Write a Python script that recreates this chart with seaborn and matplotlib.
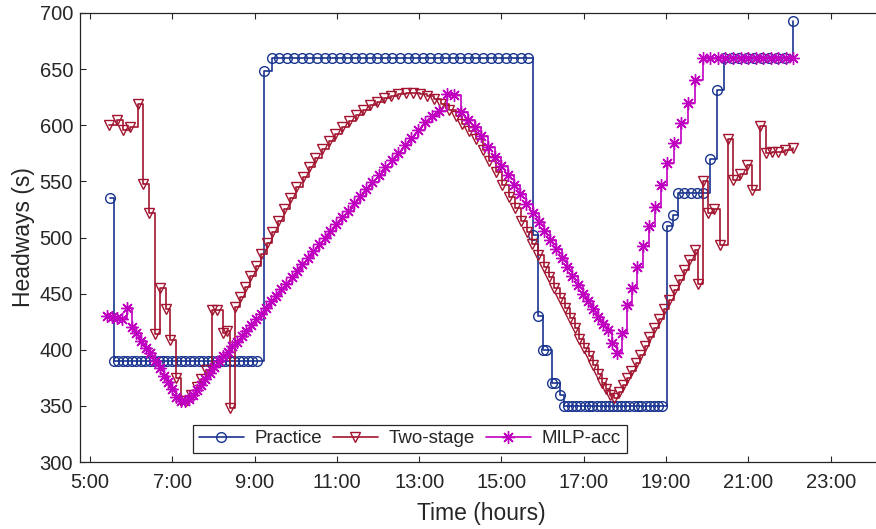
import matplotlib
matplotlib.use("Agg")
import matplotlib.pyplot as plt
import pandas as pd
import seaborn as sns

# ---------------- data ----------------
series_names = ["Practice", "Two-stage", "MILP-acc"]

practice_time = [
    5.486,
    5.583, 5.691, 5.800, 5.908, 6.016, 6.125, 6.233, 6.341, 6.450, 6.558, 6.666,
    6.775, 6.883, 6.991, 7.100, 7.208, 7.316, 7.425, 7.533, 7.641, 7.750, 7.858,
    7.966, 8.075, 8.183, 8.291, 8.400, 8.508, 8.616, 8.725, 8.833, 8.941, 9.050,
    9.236,
    9.416, 9.599, 9.783, 9.966, 10.149, 10.333, 10.516, 10.699, 10.883, 11.066,
    11.249, 11.433, 11.616, 11.799, 11.983, 12.166, 12.349, 12.533, 12.716, 12.899,
    13.083, 13.266, 13.449, 13.633, 13.816, 13.999, 14.183, 14.366, 14.549, 14.733,
    14.916, 15.099, 15.283, 15.466, 15.649,
    15.773, 15.894, 16.016, 16.081, 16.220, 16.300, 16.421,
    16.52, 16.62, 16.72, 16.82, 16.92, 17.02, 17.12, 17.21, 17.31, 17.41, 17.51,
    17.61, 17.71, 17.81, 17.91, 18.01, 18.11, 18.21, 18.31, 18.40, 18.50, 18.60,
    18.70, 18.80, 18.90,
    19.014, 19.160, 19.296, 19.447, 19.597, 19.750, 19.900, 20.067, 20.229,
    20.414, 20.597, 20.781, 20.964, 21.148, 21.330, 21.512, 21.695, 21.880,
    22.091,
]
practice_headway = [
    535,
    390, 390, 390, 390, 390, 390, 390, 390, 390, 390, 390,
    390, 390, 390, 390, 390, 390, 390, 390, 390, 390, 390,
    390, 390, 390, 390, 390, 390, 390, 390, 390, 390, 390,
    648,
    660, 660, 660, 660, 660, 660, 660, 660, 660, 660,
    660, 660, 660, 660, 660, 660, 660, 660, 660, 660,
    660, 660, 660, 660, 660, 660, 660, 660, 660, 660,
    660, 660, 660, 660, 660,
    502, 430, 400, 400, 370, 370, 360,
    350, 350, 350, 350, 350, 350, 350, 350, 350, 350, 350,
    350, 350, 350, 350, 350, 350, 350, 350, 350, 350, 350,
    350, 350, 350,
    510, 520, 540, 540, 540, 540, 540, 570, 631,
    660, 660, 660, 660, 660, 660, 660, 660, 660,
    693,
]

twostage_time = [
    5.469, 5.663, 5.809, 5.972, 6.174, 6.281, 6.441, 6.580, 6.701, 6.840,
    6.944, 7.090, 7.211, 7.333, 7.454, 7.593, 7.697, 7.812, 7.957, 8.079,
    8.239, 8.322, 8.402, 8.524, 8.648, 8.774, 8.900, 9.029, 9.160, 9.296,
    9.435, 9.576, 9.719, 9.865, 10.016, 10.166, 10.322, 10.478, 10.636, 10.798,
    10.961, 11.126, 11.294, 11.462, 11.632, 11.802, 11.974, 12.147, 12.320, 12.495,
    12.670, 12.844, 13.019, 13.194, 13.369, 13.542, 13.714, 13.885, 14.052, 14.220,
    14.385, 14.548, 14.708, 14.866, 15.022, 15.175, 15.323, 15.469, 15.612, 15.753,
    15.889, 16.025, 16.157, 16.285, 16.412, 16.536, 16.657, 16.776, 16.893, 17.007,
    17.117, 17.228, 17.335, 17.440, 17.542, 17.644, 17.743, 17.846, 17.948, 18.052,
    18.157, 18.264, 18.373, 18.482, 18.594, 18.708, 18.823, 18.944, 19.066, 19.187,
    19.311, 19.438, 19.564, 19.693, 19.775, 19.904, 20.026, 20.176, 20.298, 20.512,
    20.633, 20.796, 20.959, 21.088, 21.282, 21.421, 21.566, 21.727, 21.890, 22.091,
]
twostage_headway = [
    600, 605, 596, 598, 619, 548, 522, 414, 455, 436,
    409, 375, 354, 354, 360, 367, 374, 382, 435, 435,
    415, 417, 348, 438, 447, 456, 466, 475, 485, 495,
    505, 515, 525, 535, 545, 554, 563, 571, 579, 586,
    592, 598, 604, 609, 614, 618, 621, 624, 626, 628,
    629, 629, 628, 626, 623, 619, 614, 608, 601, 595,
    588, 578, 568, 558, 547, 536, 526, 515, 505, 494,
    484, 474, 465, 455, 446, 437, 428, 419, 410, 402,
    394, 386, 378, 370, 365, 360, 357, 362, 369, 375,
    381, 388, 395, 403, 411, 419, 427, 436, 444, 453,
    462, 471, 480, 489, 459, 550, 522, 525, 493, 588,
    551, 557, 565, 542, 599, 575, 576, 576, 578, 580,
]

milp_time = [
    5.420, 5.539, 5.659, 5.778, 5.899, 6.016, 6.130, 6.244, 6.358, 6.470,
    6.580, 6.689, 6.796, 6.900, 7.002, 7.102, 7.202, 7.299, 7.399, 7.498,
    7.598, 7.700, 7.804, 7.909, 8.016, 8.123, 8.232, 8.344, 8.456, 8.570,
    8.684, 8.801, 8.917, 9.034, 9.153, 9.275, 9.398, 9.522, 9.649, 9.775,
    9.904, 10.033, 10.164, 10.298, 10.431, 10.567, 10.706, 10.844, 10.985, 11.129,
    11.272, 11.418, 11.566, 11.714, 11.865, 12.018, 12.174, 12.329, 12.487, 12.648,
    12.810, 12.976, 13.141, 13.309, 13.479, 13.668, 13.843, 14.013, 14.181, 14.349,
    14.514, 14.677, 14.837, 14.995, 15.151, 15.306, 15.457, 15.607, 15.756, 15.901,
    16.045, 16.186, 16.324, 16.460, 16.594, 16.725, 16.854, 16.980, 17.104, 17.228,
    17.350, 17.466, 17.583, 17.695, 17.804, 17.918, 18.040, 18.166, 18.298, 18.434,
    18.575, 18.720, 18.873, 19.031, 19.194, 19.362, 19.535, 19.712, 19.894, 20.076,
    20.259, 20.443, 20.625, 20.810, 20.992, 21.174, 21.359, 21.541, 21.726, 21.908,
    22.091,
]
milp_headway = [
    430, 429, 428, 427, 437, 420, 415, 408, 402, 397,
    390, 384, 377, 371, 365, 358, 354, 354, 356, 360,
    364, 369, 374, 379, 385, 390, 394, 398, 403, 407,
    412, 417, 422, 427, 432, 437, 443, 448, 454, 459,
    465, 470, 476, 482, 488, 494, 500, 506, 512, 518,
    524, 531, 537, 543, 549, 556, 563, 569, 575, 582,
    589, 596, 603, 608, 613, 628, 627, 612, 605, 598,
    590, 581, 572, 564, 556, 547, 539, 530, 522, 514,
    506, 498, 490, 482, 474, 466, 458, 450, 443, 436,
    429, 423, 418, 406, 397, 415, 440, 455, 474, 492,
    510, 527, 547, 566, 584, 602, 620, 640, 660, 660,
    660, 660, 660, 660, 660, 660, 660, 660, 660, 660,
    660,
]

x_ticks = [5, 7, 9, 11, 13, 15, 17, 19, 21, 23]
x_tick_labels = ["5:00", "7:00", "9:00", "11:00", "13:00", "15:00",
                 "17:00", "19:00", "21:00", "23:00"]
y_ticks = [300, 350, 400, 450, 500, 550, 600, 650, 700]

# ---------------- style ----------------
sns.set_style("white")
plt.rcParams["font.family"] = ["Liberation Sans", "DejaVu Sans"]

W, H = 876, 529
fig = plt.figure(figsize=(W / 100, H / 100), dpi=100)
ax = fig.add_axes([80 / W, (H - 462) / H, 802 / W, 449 / H])

colors = ["#1A3590", "#A2142F", "#C000C0"]
markers = ["o", "v", (8, 2, 0)]
msizes = [7, 7.5, 9]

all_series = [
    (practice_time, practice_headway),
    (twostage_time, twostage_headway),
    (milp_time, milp_headway),
]

for (t, h), name, c, m, ms in zip(all_series, series_names, colors, markers, msizes):
    df = pd.DataFrame({"time": t, "headway": h})
    sns.lineplot(
        data=df, x="time", y="headway", ax=ax,
        estimator=None, sort=False, legend=False,
        drawstyle="steps-post", color=c, linewidth=1.2,
        marker=m, markersize=ms, markerfacecolor="none",
        markeredgecolor=c, markeredgewidth=1.0, label=name,
    )

ax.set_xlim(4.757, 24.247)
ax.set_ylim(300, 700)
ax.set_xticks(x_ticks)
ax.set_xticklabels(x_tick_labels)
ax.set_yticks(y_ticks)

ax.set_xlabel("Time (hours)", fontsize=16.5, color="#262626", labelpad=7)
ax.set_ylabel("Headways (s)", fontsize=16.5, color="#262626", labelpad=3)

ax.tick_params(direction="in", length=4.5, width=0.8,
               bottom=True, left=True, top=True, right=True,
               labelsize=14.5, colors="#262626")
ax.tick_params(axis="x", pad=8)
ax.tick_params(axis="y", pad=5)
for sp in ax.spines.values():
    sp.set_color("#262626")
    sp.set_linewidth(0.9)

handles = ax.lines[:3]
leg = ax.legend(handles, series_names, ncol=3, loc="lower left",
                bbox_to_anchor=(0.1409, 0.02), borderaxespad=0,
                fontsize=13.5, frameon=True, fancybox=False, framealpha=1,
                edgecolor="#262626", handlelength=2.4, handletextpad=0.6,
                columnspacing=0.55, borderpad=0.3)
leg.get_frame().set_linewidth(0.9)

fig.savefig("out.png", dpi=100, facecolor="white")
